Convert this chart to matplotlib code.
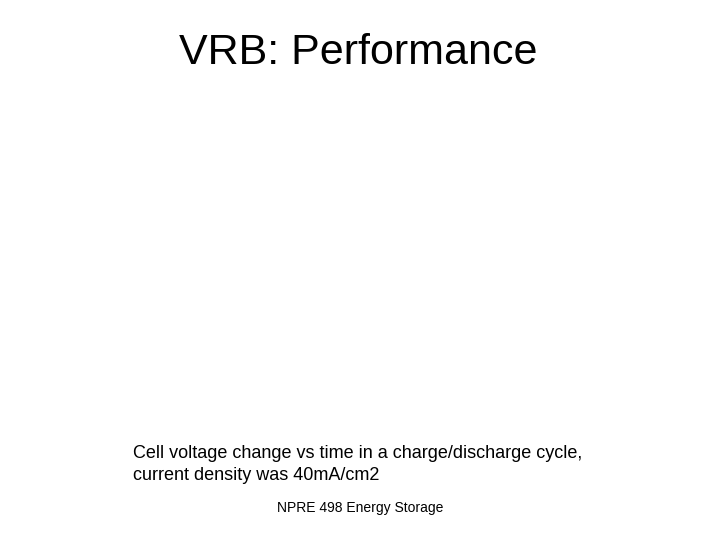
import matplotlib
matplotlib.use("Agg")
import matplotlib.pyplot as plt

plt.rcParams['font.family'] = ['Liberation Sans', 'DejaVu Sans']

title = "VRB: Performance"
caption_lines = ["Cell voltage change vs time in a charge/discharge cycle,",
                 "current density was 40mA/cm2"]
footer = "NPRE 498 Energy Storage"

W, H = 720, 540
fig = plt.figure(figsize=(W / 100, H / 100), dpi=100)
fig.patch.set_facecolor('white')

# positions in pixels from top-left, converted to figure fractions
def fx(px):
    return px / W

def fy(py):
    return 1 - py / H

fig.text(fx(358), fy(64), title, fontsize=31, ha='center', va='baseline', color='black')

fig.text(fx(133), fy(458), caption_lines[0], fontsize=13, ha='left', va='baseline', color='black')
fig.text(fx(133), fy(480), caption_lines[1], fontsize=13, ha='left', va='baseline', color='black')

fig.text(fx(360), fy(512), footer, fontsize=10, ha='center', va='baseline', color='black')

fig.savefig("out.png", dpi=100, facecolor='white')
